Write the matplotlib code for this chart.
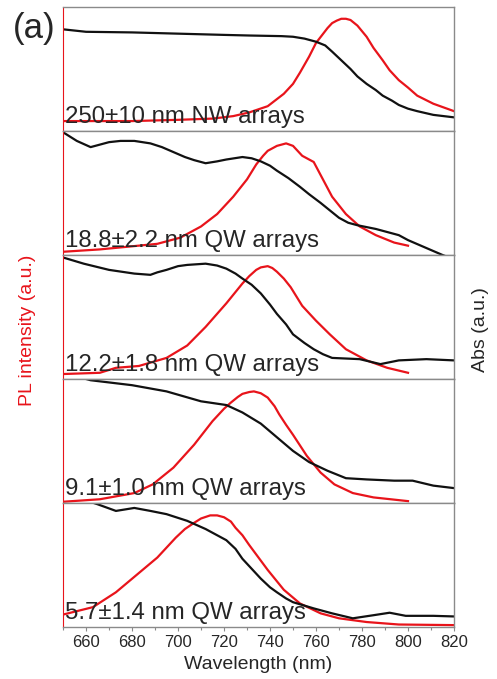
"""
Stacked PL / absorption spectra for NW and QW arrays of decreasing thickness.
"""

import matplotlib.pyplot as plt
from matplotlib.ticker import MultipleLocator

plt.rcParams["font.family"] = ["Liberation Sans", "DejaVu Sans"]

PL_COLOR = "#e8141b"
ABS_COLOR = "#111111"
FRAME_COLOR = "#8a8a8a"
TEXT_COLOR = "#262626"

# Spectra, normalised per panel (0 = panel bottom, 1 = panel top)
nw250_abs_x = [650, 660, 680, 700, 720, 731, 745, 750, 755, 760, 764, 767, 771, 775, 778, 782, 786, 789, 793, 796, 800, 804, 811, 820]
nw250_abs_y = [0.82, 0.80, 0.795, 0.785, 0.775, 0.77, 0.765, 0.76, 0.745, 0.72, 0.69, 0.64, 0.57, 0.50, 0.44, 0.38, 0.33, 0.285, 0.245, 0.21, 0.18, 0.16, 0.13, 0.11]
nw250_pl_x = [650, 680, 700, 715, 724, 731, 739, 746, 750, 753, 757, 760, 765, 767, 769, 771, 773, 775, 778, 782, 785, 789, 792, 796, 800, 804, 811, 820]
nw250_pl_y = [0.08, 0.08, 0.09, 0.10, 0.12, 0.15, 0.20, 0.30, 0.38, 0.47, 0.60, 0.71, 0.83, 0.87, 0.89, 0.905, 0.905, 0.895, 0.85, 0.76, 0.67, 0.57, 0.49, 0.41, 0.35, 0.285, 0.22, 0.16]

qw188_abs_x = [650, 656, 662, 666, 670, 675, 681, 688, 693, 698, 703, 707, 712, 717, 721, 728, 732, 736, 740, 743, 748, 753, 757, 762, 766, 770, 774, 778, 786, 796, 800, 805, 810, 815, 822]
qw188_abs_y = [0.99, 0.92, 0.87, 0.89, 0.91, 0.92, 0.92, 0.90, 0.87, 0.83, 0.79, 0.765, 0.74, 0.755, 0.77, 0.79, 0.78, 0.755, 0.72, 0.68, 0.62, 0.55, 0.49, 0.42, 0.36, 0.30, 0.26, 0.24, 0.21, 0.16, 0.12, 0.08, 0.04, 0.0, -0.05]
qw188_pl_x = [650, 666, 680, 691, 701, 710, 717, 724, 730, 734, 737, 739, 743, 747, 750, 754, 759, 763, 767, 773, 779, 786, 794, 800]
qw188_pl_y = [0.026, 0.045, 0.07, 0.09, 0.14, 0.23, 0.33, 0.47, 0.61, 0.73, 0.80, 0.84, 0.88, 0.90, 0.88, 0.80, 0.75, 0.61, 0.47, 0.33, 0.23, 0.16, 0.10, 0.075]

qw122_abs_x = [650, 659, 670, 681, 688, 691, 695, 700, 704, 712, 717, 721, 725, 728, 732, 736, 740, 743, 747, 750, 755, 759, 763, 767, 779, 788, 796, 808, 820]
qw122_abs_y = [0.98, 0.93, 0.88, 0.85, 0.84, 0.86, 0.88, 0.91, 0.92, 0.93, 0.915, 0.89, 0.85, 0.81, 0.76, 0.69, 0.60, 0.525, 0.44, 0.36, 0.29, 0.24, 0.20, 0.17, 0.16, 0.12, 0.15, 0.16, 0.15]
qw122_pl_x = [650, 666, 673, 683, 695, 704, 712, 721, 728, 731, 734, 736, 739, 741, 743, 746, 749, 754, 760, 766, 773, 782, 791, 800]
qw122_pl_y = [0.04, 0.05, 0.09, 0.105, 0.17, 0.27, 0.42, 0.61, 0.77, 0.83, 0.88, 0.90, 0.91, 0.895, 0.865, 0.81, 0.74, 0.59, 0.47, 0.36, 0.24, 0.15, 0.09, 0.05]

qw91_abs_x = [650, 662, 680, 695, 710, 721, 728, 736, 743, 750, 757, 765, 773, 782, 794, 802, 811, 820]
qw91_abs_y = [1.05, 0.99, 0.95, 0.90, 0.82, 0.79, 0.73, 0.64, 0.53, 0.42, 0.33, 0.26, 0.20, 0.19, 0.18, 0.18, 0.14, 0.12]
qw91_pl_x = [650, 666, 681, 689, 698, 707, 715, 720, 723, 726, 728, 731, 733, 736, 739, 742, 744, 747, 750, 756, 762, 768, 776, 785, 800]
qw91_pl_y = [0.01, 0.03, 0.08, 0.15, 0.285, 0.47, 0.66, 0.76, 0.81, 0.855, 0.88, 0.895, 0.90, 0.885, 0.85, 0.78, 0.715, 0.63, 0.55, 0.38, 0.245, 0.15, 0.08, 0.045, 0.015]

qw57_abs_x = [650, 665, 673, 681, 688, 695, 704, 712, 721, 725, 728, 732, 736, 740, 743, 747, 750, 759, 767, 776, 785, 792, 799, 811, 820]
qw57_abs_y = [1.08, 0.99, 0.936, 0.96, 0.936, 0.91, 0.856, 0.79, 0.70, 0.63, 0.55, 0.47, 0.39, 0.32, 0.28, 0.23, 0.20, 0.15, 0.11, 0.07, 0.095, 0.115, 0.09, 0.09, 0.085]
qw57_pl_x = [650, 663, 673, 682, 691, 699, 703, 707, 710, 714, 717, 720, 723, 725, 728, 731, 735, 739, 746, 753, 762, 770, 782, 796, 820]
qw57_pl_y = [0.10, 0.16, 0.28, 0.42, 0.56, 0.72, 0.79, 0.84, 0.875, 0.90, 0.90, 0.885, 0.85, 0.80, 0.74, 0.66, 0.56, 0.46, 0.30, 0.19, 0.11, 0.07, 0.04, 0.02, 0.015]

labels = [
    "250\u00b110 nm NW arrays",
    "18.8\u00b12.2 nm QW arrays",
    "12.2\u00b11.8 nm QW arrays",
    "9.1\u00b11.0 nm QW arrays",
    "5.7\u00b11.4 nm QW arrays",
]

panels = [
    (nw250_abs_x, nw250_abs_y, nw250_pl_x, nw250_pl_y),
    (qw188_abs_x, qw188_abs_y, qw188_pl_x, qw188_pl_y),
    (qw122_abs_x, qw122_abs_y, qw122_pl_x, qw122_pl_y),
    (qw91_abs_x, qw91_abs_y, qw91_pl_x, qw91_pl_y),
    (qw57_abs_x, qw57_abs_y, qw57_pl_x, qw57_pl_y),
]

fig = plt.figure(figsize=(4.97, 6.79), dpi=100)
left, width = 0.1268, 0.7867
bottom, top = 0.0766, 0.9897
panel_h = (top - bottom) / len(panels)

for i, ((ax_x, ax_y, pl_x, pl_y), label) in enumerate(zip(panels, labels)):
    ax = fig.add_axes([left, top - (i + 1) * panel_h, width, panel_h])
    ax.plot(pl_x, pl_y, color=PL_COLOR, lw=1.6, solid_joinstyle="round")
    ax.plot(ax_x, ax_y, color=ABS_COLOR, lw=1.6, solid_joinstyle="round")
    ax.set_xlim(650, 820)
    ax.set_ylim(0, 1)
    ax.set_yticks([])
    for side in ("top", "right", "bottom"):
        ax.spines[side].set_color(FRAME_COLOR)
        ax.spines[side].set_linewidth(1.0)
    ax.spines["left"].set_color(PL_COLOR)
    ax.spines["left"].set_linewidth(0.8)
    ax.text(0.006, 0.065, label, transform=ax.transAxes, fontsize=17.3,
            color=TEXT_COLOR, va="baseline", ha="left")
    ax.xaxis.set_major_locator(MultipleLocator(20))
    ax.xaxis.set_minor_locator(MultipleLocator(10))
    if i == len(panels) - 1:
        ax.set_xticks(range(660, 821, 20))
        ax.tick_params(axis="x", which="major", direction="out", length=3,
                       width=0.8, color=FRAME_COLOR, labelsize=12,
                       labelcolor=TEXT_COLOR, pad=3)
        ax.tick_params(axis="x", which="minor", direction="out", length=2,
                       width=0.8, color=FRAME_COLOR)
        ax.set_xlabel("Wavelength (nm)", fontsize=14, color=TEXT_COLOR, labelpad=4)
    else:
        ax.tick_params(axis="x", which="both", length=0, labelbottom=False)

fig.text(0.056, 0.513, "PL intensity (a.u.)", rotation=90, color=PL_COLOR,
         fontsize=14, ha="center", va="center")
fig.text(0.966, 0.515, "Abs (a.u.)", rotation=90, color=TEXT_COLOR,
         fontsize=14, ha="center", va="center")
fig.text(0.026, 0.958, "(a)", fontsize=25, color=TEXT_COLOR, ha="left", va="center")

fig.savefig("out.png", dpi=100)
